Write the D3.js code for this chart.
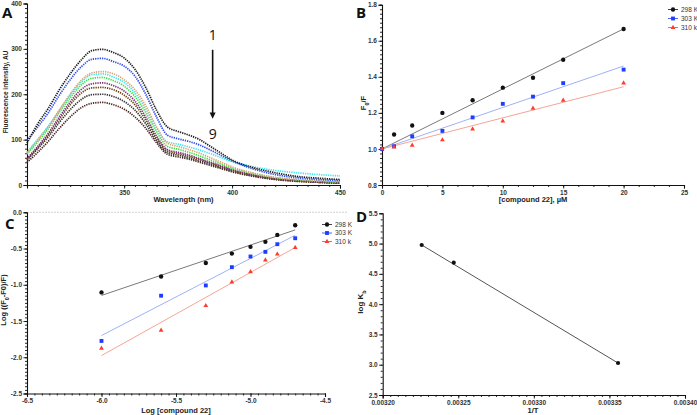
<!DOCTYPE html>
<html>
<head>
<meta charset="utf-8">
<script src="https://cdn.jsdelivr.net/npm/d3@7"></script>
<style>
body { margin: 0; background: #fff; }
text { font-family: "Liberation Sans", Arial, sans-serif; }
</style>
</head>
<body>
<svg id="chart" width="697" height="415"></svg>
<script>
// ---- panel A: emission spectra (1 -> 9) ----
const wavelengths = [305, 310, 315, 320, 325, 330, 335, 340, 345, 350, 355, 360, 365, 370, 375, 380, 385, 390, 395, 400, 410, 420, 430, 440, 450];
const spec1 = [92, 135, 170, 210, 245, 275, 296, 299, 292, 280, 255, 215, 165, 128, 118, 110, 100, 85, 70, 55, 38, 27, 19, 15, 12];
const spec2 = [98, 128, 160, 198, 232, 260, 277, 279, 272, 262, 240, 200, 150, 110, 102, 96, 88, 77, 65, 53, 35, 23, 16, 12, 10];
const spec3 = [70, 100, 130, 165, 200, 230, 247, 250, 245, 232, 210, 175, 128, 92, 85, 78, 70, 60, 50, 40, 26, 17, 12, 9, 7];
const spec4 = [72, 100, 130, 165, 198, 226, 243, 245, 238, 226, 203, 168, 125, 95, 90, 84, 77, 69, 60, 52, 40, 32, 27, 23, 20];
const spec5 = [68, 95, 125, 160, 192, 220, 235, 237, 230, 218, 195, 160, 118, 85, 79, 72, 64, 55, 46, 37, 25, 16, 11, 8, 6];
const spec6 = [58, 85, 115, 150, 183, 210, 223, 225, 219, 207, 185, 150, 108, 78, 72, 66, 58, 50, 42, 34, 22, 14, 10, 7, 5];
const spec7 = [57, 83, 112, 145, 177, 202, 214, 215, 210, 198, 177, 143, 103, 75, 69, 63, 56, 48, 40, 32, 21, 13, 9, 6, 5];
const spec8 = [55, 80, 107, 138, 166, 188, 199, 200, 195, 184, 165, 135, 98, 72, 66, 60, 53, 46, 38, 31, 20, 13, 9, 6, 4];
const spec9 = [50, 72, 97, 125, 150, 170, 180, 182, 177, 167, 150, 125, 93, 68, 62, 57, 50, 43, 36, 29, 19, 12, 8, 6, 4];
const specColors = ["#1a1a1a", "#2b4cf2", "#d9a57a", "#3ee6ee", "#3fe03f", "#7b2d7b", "#6e4214", "#333333", "#4d2222"];

// ---- panel B: Stern-Volmer ----
const concB = [0, 1, 2.5, 5, 7.5, 10, 12.5, 15, 20];
const f0f_298 = [1.0, 1.08, 1.13, 1.2, 1.27, 1.34, 1.395, 1.495, 1.665];
const f0f_303 = [1.0, 1.015, 1.07, 1.10, 1.175, 1.25, 1.29, 1.365, 1.44];
const f0f_310 = [1.0, 1.01, 1.02, 1.05, 1.11, 1.155, 1.225, 1.27, 1.365];
const fitB_298 = [[0, 1.0], [20, 1.666]];
const fitB_303 = [[0, 1.0], [20, 1.46]];
const fitB_310 = [[0, 1.0], [20, 1.345]];

// ---- panel C: double log ----
const logConc = [-6.0, -5.6, -5.3, -5.125, -5.0, -4.9, -4.82, -4.7];
const logQ_298 = [-1.105, -0.885, -0.70, -0.57, -0.477, -0.408, -0.312, -0.179];
const logQ_303 = [-1.775, -1.151, -1.009, -0.757, -0.61, -0.546, -0.44, -0.358];
const logQ_310 = [-1.876, -1.628, -1.289, -0.963, -0.821, -0.66, -0.578, -0.486];
const fitC_298 = [[-6.0, -1.147], [-4.7, -0.243]];
const fitC_303 = [[-6.0, -1.70], [-4.7, -0.317]];
const fitC_310 = [[-6.0, -1.977], [-4.7, -0.486]];

// ---- panel D: van't Hoff ----
const invT = [0.0032258, 0.003247, 0.0033557];
const logKb = [4.977, 4.685, 3.028];

const tempLabels = ["298 K", "303 K", "310 k"];
const serColors = ["#111111", "#1f3dff", "#ff3b2b"];
const fitColors = ["#7a7a7a", "#9fb2f5", "#f5a596"];
const serSymbols = [d3.symbolCircle, d3.symbolSquare, d3.symbolTriangle];
const serSizes = [15, 15, 10];

const svg = d3.select("#chart");

// axes with major + minor ticks
function axes(x, y, o) {
    const g = svg.append("g");
    const y0 = y.range()[0], x0 = x.range()[0];
    const xm = g.append("g").attr("transform", "translate(0," + y0 + ")")
        .call(d3.axisBottom(x).tickValues(o.xMinor).tickSize(2).tickFormat(""));
    xm.select(".domain").remove();
    g.append("g").attr("transform", "translate(0," + y0 + ")")
        .call(d3.axisBottom(x).tickValues(o.xMajor).tickSize(3.5).tickPadding(1.5).tickFormat(o.xFmt));
    const ym = g.append("g").attr("transform", "translate(" + x0 + ",0)")
        .call(d3.axisLeft(y).tickValues(o.yMinor).tickSize(2).tickFormat(""));
    ym.select(".domain").remove();
    g.append("g").attr("transform", "translate(" + x0 + ",0)")
        .call(d3.axisLeft(y).tickValues(o.yMajor).tickSize(3.5).tickPadding(1.5).tickFormat(o.yFmt));
    g.selectAll(".domain").attr("stroke", "#111").attr("stroke-width", 1.1);
    g.selectAll(".tick line").attr("stroke", "#111").attr("stroke-width", 0.9);
    g.selectAll(".tick text").attr("font-size", 6.5).attr("font-weight", "bold").attr("fill", "#333")
        .style("font-family", "'Liberation Sans', Arial, sans-serif");
    return g;
}

function steps(a, b, s) {
    return d3.range(Math.round((b - a) / s) + 1).map(i => +(a + i * s).toFixed(7));
}

function title(txt, x, y, rot, size) {
    const t = svg.append("text")
        .attr("text-anchor", "middle")
        .attr("font-size", size || 7.5)
        .attr("font-weight", "bold")
        .attr("fill", "#222");
    if (rot) t.attr("transform", "translate(" + x + "," + y + ") rotate(-90)");
    else t.attr("x", x).attr("y", y);
    return t.text(txt);
}

function panelLabel(txt, x, y) {
    svg.append("text").attr("x", x).attr("y", y)
        .attr("font-size", 15).attr("font-weight", "bold")
        .style("font-family", "'Open Sans', 'Liberation Sans', sans-serif")
        .attr("fill", "#111").text(txt);
}

function legend(xs, ys) {
    tempLabels.forEach((lab, i) => {
        const yy = ys[i];
        svg.append("line").attr("x1", xs - 5).attr("x2", xs + 5).attr("y1", yy).attr("y2", yy)
            .attr("stroke", serColors[i]).attr("stroke-width", 0.8);
        svg.append("path").attr("d", d3.symbol(serSymbols[i], serSizes[i]))
            .attr("transform", "translate(" + xs + "," + yy + ")").attr("fill", serColors[i]);
        svg.append("text").attr("x", xs + 8).attr("y", yy + 2.2)
            .attr("font-size", 6.5).attr("fill", "#333").text(lab);
    });
}

function points(xv, yv, x, y, i) {
    svg.append("g").selectAll("path").data(xv.map((d, k) => [d, yv[k]])).join("path")
        .attr("d", d3.symbol(serSymbols[i], serSizes[i]))
        .attr("transform", d => "translate(" + x(d[0]) + "," + y(d[1]) + ")")
        .attr("fill", serColors[i]);
}

function fit(seg, x, y, color) {
    svg.append("path").datum(seg)
        .attr("d", d3.line().x(d => x(d[0])).y(d => y(d[1])))
        .attr("fill", "none").attr("stroke", color).attr("stroke-width", 1);
}

// ===== Panel A =====
const xA = d3.scaleLinear().domain([305, 450]).range([27, 340]);
const yA = d3.scaleLinear().domain([0, 400]).range([185, 3.5]);
axes(xA, yA, {
    xMajor: [350, 400, 450], xMinor: steps(305, 450, 5), xFmt: d3.format("d"),
    yMajor: steps(0, 400, 100), yMinor: steps(0, 400, 10), yFmt: d3.format("d")
});
const specs = [spec1, spec2, spec3, spec4, spec5, spec6, spec7, spec8, spec9];
const lineA = d3.line().x((d, k) => xA(wavelengths[k])).y(d => yA(d)).curve(d3.curveMonotoneX);
specs.slice().reverse().forEach((s, j) => {
    const i = specs.length - 1 - j;
    svg.append("path").datum(s).attr("d", lineA)
        .attr("fill", "none").attr("stroke", specColors[i])
        .attr("stroke-width", 1.7).attr("stroke-dasharray", "1.3,1");
});
title("Wavelength (nm)", (27 + 340) / 2, 202);
title("Fluorescence intensity, AU", 8, 92, true, 6.5);
panelLabel("A", 2, 18);
// arrow 1 -> 9
svg.append("text").attr("x", xA(391)).attr("y", yA(320)).attr("text-anchor", "middle")
    .attr("font-size", 14).style("font-family", "'Open Sans', sans-serif").attr("fill", "#111").text("1");
svg.append("line").attr("x1", xA(391)).attr("x2", xA(391)).attr("y1", yA(298)).attr("y2", yA(158))
    .attr("stroke", "#111").attr("stroke-width", 1.6);
svg.append("path")
    .attr("d", "M" + (xA(391) - 3) + "," + yA(160) + "L" + (xA(391) + 3) + "," + yA(160) + "L" + xA(391) + "," + yA(146) + "Z")
    .attr("fill", "#111");
svg.append("text").attr("x", xA(391)).attr("y", yA(101)).attr("text-anchor", "middle")
    .attr("font-size", 14).style("font-family", "'Open Sans', sans-serif").attr("fill", "#111").text("9");

// ===== Panel B =====
const xB = d3.scaleLinear().domain([0, 25]).range([382, 684]);
const yB = d3.scaleLinear().domain([0.8, 1.8]).range([185, 4.7]);
axes(xB, yB, {
    xMajor: steps(0, 25, 5), xMinor: steps(0, 25, 1.25), xFmt: d3.format("d"),
    yMajor: steps(0.8, 1.8, 0.2), yMinor: steps(0.8, 1.8, 0.025), yFmt: d3.format(".1f")
});
[fitB_298, fitB_303, fitB_310].forEach((s, i) => fit(s, xB, yB, fitColors[i]));
[f0f_298, f0f_303, f0f_310].forEach((s, i) => points(concB, s, xB, yB, i));
legend(673, [9.5, 18.5, 27.5]);
title("[compound 22], \u00b5M", 533, 202);
const tB = title("", 366, 103, true, 7.5);
tB.append("tspan").text("F");
tB.append("tspan").attr("baseline-shift", "sub").attr("font-size", 5.5).text("0");
tB.append("tspan").text("/F");
panelLabel("B", 356, 18);

// ===== Panel C =====
const xC = d3.scaleLinear().domain([-6.5, -4.5]).range([27, 325]);
const yC = d3.scaleLinear().domain([-2.5, 0]).range([393.5, 212.3]);
svg.append("line").attr("x1", xC(-6.5)).attr("x2", xC(-4.35)).attr("y1", yC(0)).attr("y2", yC(0))
    .attr("stroke", "#c8c8c8").attr("stroke-width", 0.8).attr("stroke-dasharray", "2,1");
axes(xC, yC, {
    xMajor: steps(-6.5, -4.5, 0.5), xMinor: steps(-6.5, -4.5, 0.05), xFmt: d => d.toFixed(1),
    yMajor: steps(-2.5, 0, 0.5), yMinor: steps(-2.5, 0, 0.05), yFmt: d => d.toFixed(1)
});
[fitC_298, fitC_303, fitC_310].forEach((s, i) => fit(s, xC, yC, fitColors[i]));
[logQ_298, logQ_303, logQ_310].forEach((s, i) => points(logConc, s, xC, yC, i));
legend(327, [224.5, 233, 241.5]);
title("Log [compound 22]", 176, 413);
const tC = title("", 6, 300, true, 7.5);
tC.append("tspan").text("Log ((F");
tC.append("tspan").attr("baseline-shift", "sub").attr("font-size", 5.5).text("0");
tC.append("tspan").text("-F0)/F)");
panelLabel("C", 5, 229);

// ===== Panel D =====
const xD = d3.scaleLinear().domain([0.0032, 0.0034]).range([382.7, 685]);
const yD = d3.scaleLinear().domain([2.5, 5.5]).range([395, 213.3]);
axes(xD, yD, {
    xMajor: steps(0.0032, 0.0034, 0.00005), xMinor: steps(0.0032, 0.0034, 0.000005), xFmt: d3.format(".5f"),
    yMajor: steps(2.5, 5.5, 0.5), yMinor: steps(2.5, 5.5, 0.1), yFmt: d3.format(".1f")
});
fit([[invT[0], logKb[0]], [invT[2], logKb[2]]], xD, yD, "#555");
svg.append("g").selectAll("circle").data(invT.map((d, k) => [d, logKb[k]])).join("circle")
    .attr("cx", d => xD(d[0])).attr("cy", d => yD(d[1])).attr("r", 2.1).attr("fill", "#111");
title("1/T", 533, 413);
const tD = title("", 363, 302, true, 8);
tD.append("tspan").text("log K");
tD.append("tspan").attr("baseline-shift", "sub").attr("font-size", 5.5).text("b");
panelLabel("D", 356, 222);
</script>
</body>
</html>
